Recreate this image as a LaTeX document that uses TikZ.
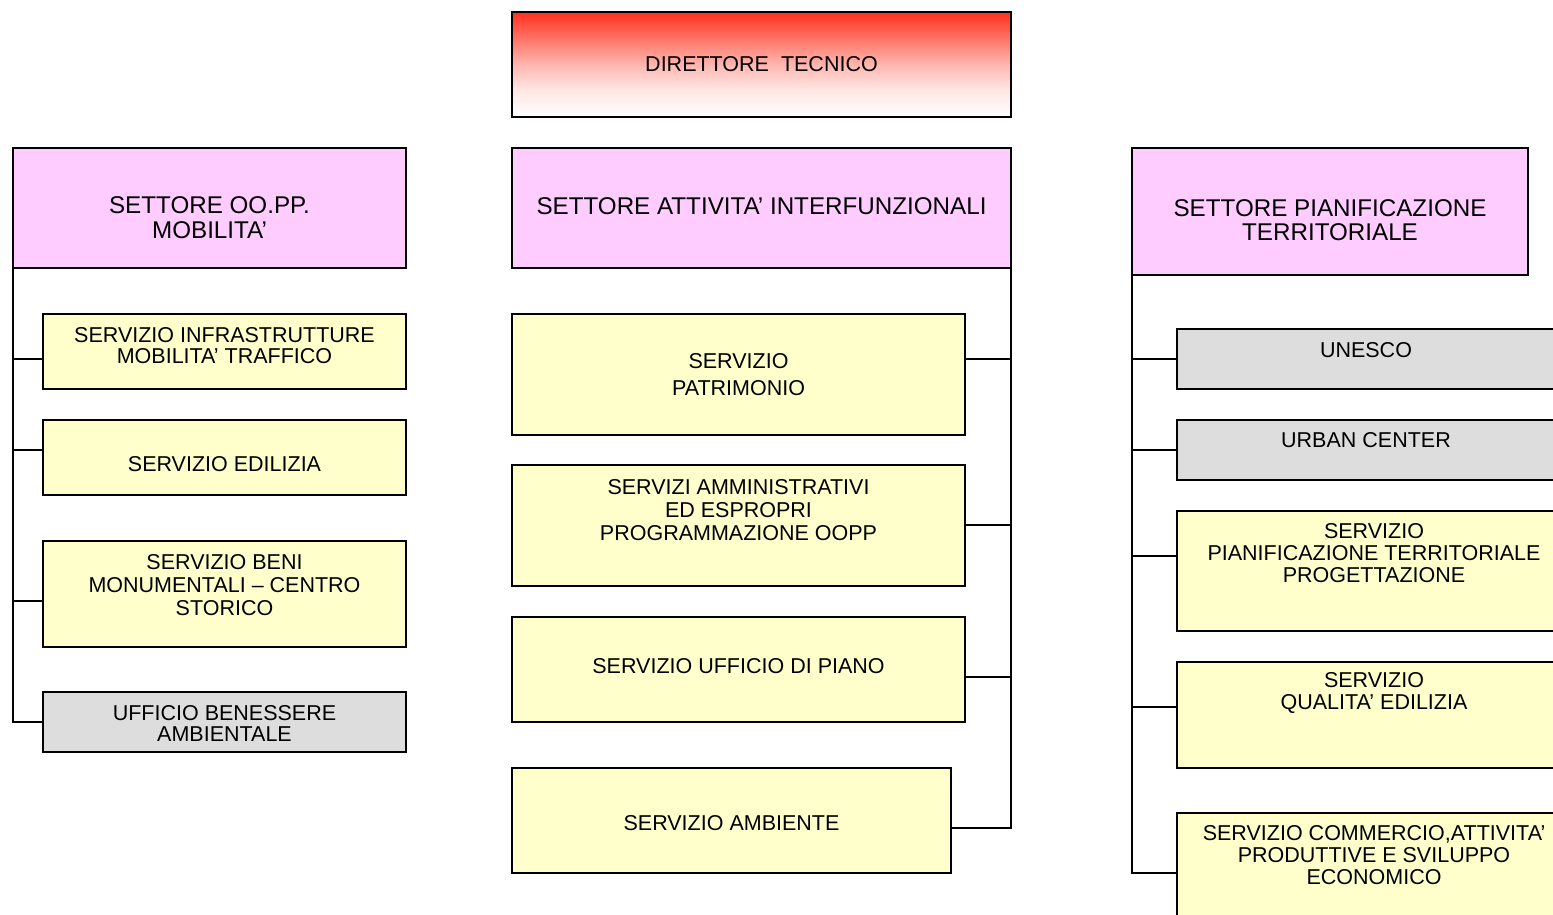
\documentclass[tikz,border=0pt]{standalone}
\usepackage{fontspec}
\setmainfont{Liberation Sans}
\usetikzlibrary{positioning}
\definecolor{pinkbox}{RGB}{255,204,255}
\definecolor{yellowbox}{RGB}{255,255,204}
\definecolor{graybox}{RGB}{221,221,221}
\definecolor{redtop}{RGB}{255,48,32}
\definecolor{redA}{RGB}{255,118,104}
\definecolor{redB}{RGB}{255,182,175}
\definecolor{redC}{RGB}{255,230,228}
\pgfdeclareverticalshading{dirshade}{100bp}{color(0bp)=(white); color(25bp)=(white);
  color(38bp)=(redC); color(50bp)=(redB); color(62bp)=(redA); color(75bp)=(redtop); color(100bp)=(redtop)}

\begin{document}
\begin{tikzpicture}[x=1pt,y=-1pt,line width=1.5pt,
    box/.style={draw,rectangle,inner sep=0pt,outer sep=0pt},
    settore/.style={box,fill=pinkbox},
    servizio/.style={box,fill=yellowbox},
    ufficio/.style={box,fill=graybox},
    txt/.style={font=\fontsize{21.5}{22}\selectfont,align=center,inner sep=0pt},
    htxt/.style={txt,font=\fontsize{24.2}{25}\selectfont}]
  \useasboundingbox (0,0) rectangle (1553,915);
  \clip (0,0) rectangle (1553,915);

  % vertice
  \node[box,shading=dirshade,minimum width=499pt,minimum height=105pt,anchor=north west,
    label={[txt]center:DIRETTORE~~TECNICO}] (dir) at (512,12) {};

  % settori
  \node[settore,minimum width=393pt,minimum height=120pt,anchor=north west,
    label={[htxt,yshift=-9.5pt]center:{SETTORE OO.PP.\\MOBILITA’}}] (oopp) at (13,148) {};
  \node[settore,minimum width=499pt,minimum height=120pt,below=31pt of dir,
    label={[htxt,yshift=2pt]center:SETTORE ATTIVITA’ INTERFUNZIONALI}] (inter) {};
  \node[settore,minimum width=396pt,minimum height=127pt,anchor=north west,
    label={[htxt,yshift=-8.5pt]center:{SETTORE PIANIFICAZIONE\\[-1pt]TERRITORIALE}}] (pian) at (1132,148) {};

  % colonna sinistra
  \node[servizio,minimum width=363pt,minimum height=75pt,anchor=north west,
    label={[txt,yshift=6pt]center:{SERVIZIO INFRASTRUTTURE\\[-1pt]MOBILITA’ TRAFFICO}}] (infra) at (43,314) {};
  \node[servizio,minimum width=363pt,minimum height=75pt,below=31pt of infra,
    label={[txt,yshift=-6.5pt]center:SERVIZIO EDILIZIA}] (edil) {};
  \node[servizio,minimum width=363pt,minimum height=106pt,below=46pt of edil,
    label={[txt,yshift=9pt]center:{SERVIZIO BENI\\[1pt]MONUMENTALI -- CENTRO\\[1pt]STORICO}}] (beni) {};
  \node[ufficio,minimum width=363pt,minimum height=60pt,below=45pt of beni,
    label={[txt,yshift=-1.5pt]center:{UFFICIO BENESSERE\\[-1pt]AMBIENTALE}}] (benes) {};

  % colonna centrale
  \node[servizio,minimum width=453pt,minimum height=121pt,anchor=north west,
    label={[txt]center:{SERVIZIO\\[5pt]PATRIMONIO}}] (patr) at (512,314) {};
  \node[servizio,minimum width=453pt,minimum height=121pt,below=30pt of patr,
    label={[txt,yshift=15.5pt]center:{SERVIZI AMMINISTRATIVI\\[1pt]ED ESPROPRI\\[1pt]PROGRAMMAZIONE OOPP}}] (ammin) {};
  \node[servizio,minimum width=453pt,minimum height=105pt,below=31pt of ammin,
    label={[txt,yshift=3.5pt]center:SERVIZIO UFFICIO DI PIANO}] (piano) {};
  \node[servizio,minimum width=439pt,minimum height=105pt,below=46pt of piano.south west,anchor=north west,
    label={[txt,yshift=-2.5pt]center:SERVIZIO AMBIENTE}] (amb) {};

  % colonna destra
  \node[ufficio,minimum width=394pt,minimum height=60pt,anchor=north west,
    label={[txt,xshift=-8pt,yshift=9pt]center:UNESCO}] (unesco) at (1177,329) {};
  \node[ufficio,minimum width=394pt,minimum height=60pt,below=31pt of unesco,
    label={[txt,xshift=-8pt,yshift=10pt]center:URBAN CENTER}] (urban) {};
  \node[servizio,minimum width=394pt,minimum height=120pt,below=31pt of urban,
    label={[txt,yshift=18pt]center:{SERVIZIO\\PIANIFICAZIONE TERRITORIALE\\PROGETTAZIONE}}] (pterr) {};
  \node[servizio,minimum width=394pt,minimum height=106pt,below=31pt of pterr,
    label={[txt,yshift=22pt]center:{SERVIZIO\\QUALITA’ EDILIZIA}}] (qual) {};
  \node[servizio,minimum width=394pt,minimum height=110pt,below=45pt of qual,
    label={[txt,yshift=13pt]center:{SERVIZIO COMMERCIO,ATTIVITA’\\PRODUTTIVE E SVILUPPO\\ECONOMICO}}] (comm) {};

  % collegamenti
  \foreach \n/\d in {infra/-7.5,edil/7.5,beni/-7,benes/0}
    \draw (oopp.south west) |- ([yshift=\d pt]\n.west);
  \foreach \n/\d in {patr/15.5,ammin/0.5,piano/-7.5,amb/-7.5}
    \draw (inter.south east) |- ([yshift=\d pt]\n.east);
  \foreach \n/\d in {unesco/0,urban/0,pterr/15,qual/8,comm/-5}
    \draw (pian.south west) |- ([yshift=\d pt]\n.west);
\end{tikzpicture}
\end{document}
